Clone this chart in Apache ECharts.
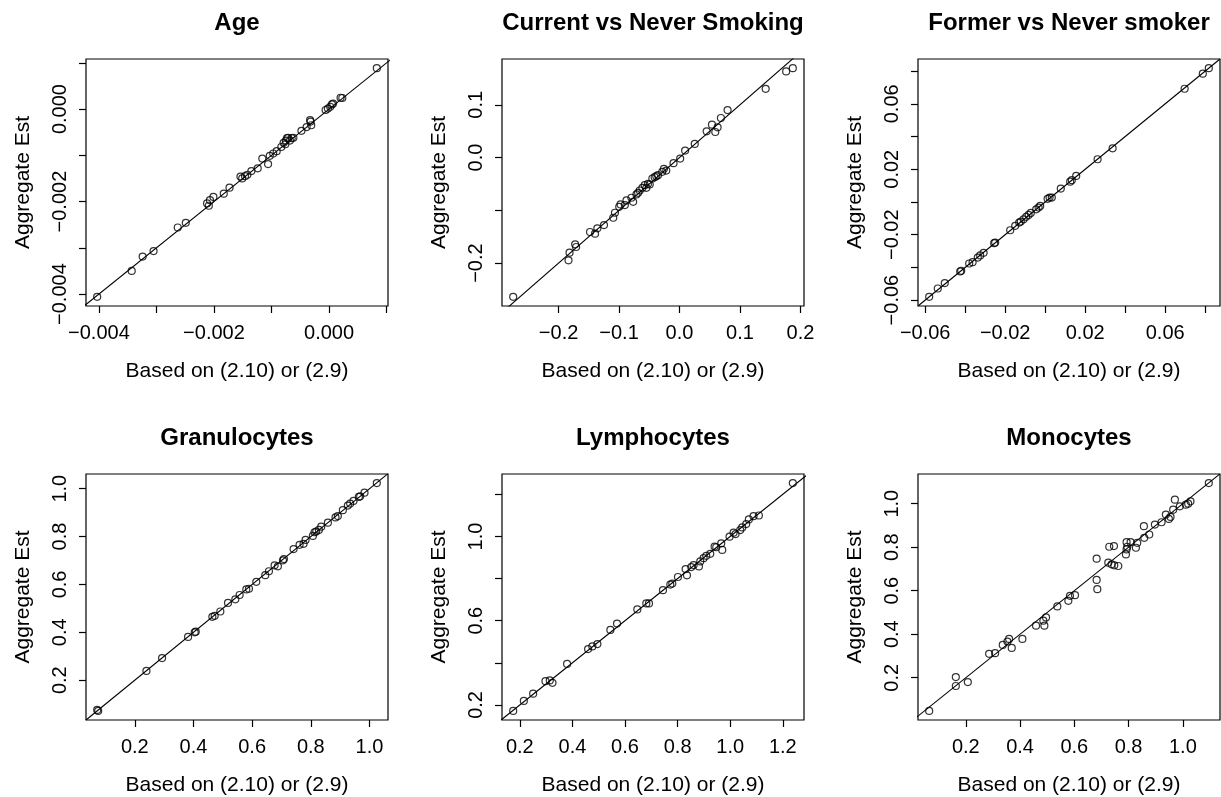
<!DOCTYPE html>
<html>
<head>
<meta charset="utf-8">
<script src="https://cdn.jsdelivr.net/npm/echarts@6/dist/echarts.min.js"></script>
<style>
  html, body { margin: 0; padding: 0; background: #fff; }
  #chart { width: 1221px; height: 797px; }
</style>
</head>
<body>
<div id="chart"></div>
<script>
// ---- Panel titles and axis names ----
const panelTitles = ['Age', 'Current vs Never Smoking', 'Former vs Never smoker',
                     'Granulocytes', 'Lymphocytes', 'Monocytes'];
const xAxisName = 'Based on (2.10) or (2.9)';
const yAxisName = 'Aggregate Est';

// ---- Age ----
const ageBased = [-0.00403, -0.00343, -0.00324, -0.00305, -0.00263, -0.00249, -0.00212, -0.00209,
  -0.00207, -0.00201, -0.00183, -0.00173, -0.00154, -0.00151, -0.00146, -0.00142, -0.00135,
  -0.00124, -0.00116, -0.00106, -0.00103, -0.00097, -0.00091, -0.00083, -0.00079, -0.00075,
  -0.00073, -0.00071, -0.00068, -0.00065, -0.00062, -0.00076, -0.00048, -0.00039, -0.00033,
  -0.00032, -0.00031, -0.00006, -0.00002, 0.00002, 0.00005, 0.00007, 0.00020, 0.00023, 0.00083];
const ageAggregate = [-0.00406, -0.00350, -0.00319, -0.00307, -0.00256, -0.00246, -0.00204, -0.00209,
  -0.00197, -0.00190, -0.00183, -0.00170, -0.00146, -0.00150, -0.00145, -0.00142, -0.00134,
  -0.00128, -0.00107, -0.00119, -0.00101, -0.00096, -0.00091, -0.00082, -0.00073, -0.00068,
  -0.00063, -0.00062, -0.00068, -0.00063, -0.00062, -0.00076, -0.00047, -0.00039, -0.00024,
  -0.00027, -0.00035, -0.00002, 0.00001, 0.00005, 0.00010, 0.00012, 0.000245, 0.00024, 0.000885];
const ageTicks = [-0.004, -0.003, -0.002, -0.001, 0, 0.001];
const ageXLabels = [-0.004, -0.002, 0];
const ageYLabels = [-0.004, -0.002, 0];

// ---- Current vs Never Smoking ----
const curBased = [-0.2751, -0.1836, -0.1819, -0.1726, -0.1710, -0.1480, -0.1397, -0.1359, -0.1249,
  -0.1096, -0.1068, -0.0997, -0.0975, -0.0904, -0.0877, -0.0795, -0.0767, -0.0712, -0.0685,
  -0.0658, -0.0614, -0.0575, -0.0548, -0.0521, -0.0493, -0.0449, -0.0411, -0.0384, -0.0356,
  -0.0285, -0.0258, -0.0219, -0.0099, 0.0011, 0.0093, 0.0252, 0.0449, 0.0537, 0.0592, 0.0630,
  0.0685, 0.0795, 0.1425, 0.1764, 0.1874];
const curAggregate = [-0.2640, -0.1947, -0.1802, -0.1645, -0.1695, -0.1411, -0.1443, -0.1342, -0.1279,
  -0.1141, -0.1046, -0.0933, -0.0888, -0.0901, -0.0813, -0.0762, -0.0838, -0.0699, -0.0668,
  -0.0624, -0.0573, -0.0523, -0.0573, -0.0498, -0.0510, -0.0397, -0.0372, -0.0353, -0.0334,
  -0.0271, -0.0214, -0.0246, -0.0107, -0.0019, 0.0132, 0.0258, 0.0498, 0.0624, 0.0485, 0.0573,
  0.0750, 0.0901, 0.1304, 0.1632, 0.1695];
const curXTicks = [-0.2, -0.1, 0, 0.1, 0.2];
const curXLabels = [-0.2, -0.1, 0, 0.1, 0.2];
const curYTicks = [-0.2, -0.1, 0, 0.1];
const curYLabels = [-0.2, 0, 0.1];

// ---- Former vs Never smoker ----
const forBased = [-0.0580, -0.0537, -0.0502, -0.0425, -0.0420, -0.0380, -0.0363, -0.0337, -0.0325,
  -0.0308, -0.0255, -0.0250, -0.0175, -0.0150, -0.0130, -0.0122, -0.0108, -0.0095, -0.0083,
  -0.0072, -0.0045, -0.0033, -0.0025, 0.0012, 0.0022, 0.0033, 0.0078, 0.0125, 0.0133, 0.0155,
  0.0262, 0.0337, 0.0697, 0.0788, 0.0818];
const forAggregate = [-0.0580, -0.0529, -0.0496, -0.0425, -0.0421, -0.0376, -0.0368, -0.0340, -0.0327,
  -0.0311, -0.0252, -0.0248, -0.0173, -0.0146, -0.0126, -0.0120, -0.0106, -0.0091, -0.0079,
  -0.0067, -0.0045, -0.0034, -0.0024, 0.0019, 0.0027, 0.0027, 0.0082, 0.0124, 0.0133, 0.0159,
  0.0261, 0.0328, 0.0692, 0.0784, 0.0818];
const forTicks = [-0.06, -0.04, -0.02, 0, 0.02, 0.04, 0.06, 0.08];
const forXLabels = [-0.06, -0.02, 0.02, 0.06];
const forYLabels = [-0.06, -0.02, 0.02, 0.06];

// ---- Granulocytes ----
const graBased = [0.0718, 0.0752, 0.2397, 0.2930, 0.3816, 0.4043, 0.4077, 0.4644, 0.4723, 0.4916,
  0.5177, 0.5427, 0.5574, 0.5801, 0.5892, 0.6142, 0.6448, 0.6573, 0.6766, 0.6879, 0.7050,
  0.7084, 0.7413, 0.7617, 0.7753, 0.7821, 0.8071, 0.8128, 0.8184, 0.8275, 0.8355, 0.8582,
  0.8843, 0.8922, 0.9092, 0.9262, 0.9342, 0.9455, 0.9637, 0.9682, 0.9830, 1.0250];
const graAggregate = [0.0759, 0.0717, 0.2386, 0.2924, 0.3807, 0.4000, 0.4028, 0.4648, 0.4690, 0.4869,
  0.5228, 0.5379, 0.5559, 0.5793, 0.5821, 0.6110, 0.6386, 0.6552, 0.6800, 0.6759, 0.7007,
  0.7062, 0.7476, 0.7655, 0.7697, 0.7862, 0.8028, 0.8180, 0.8207, 0.8276, 0.8414, 0.8579,
  0.8800, 0.8855, 0.9103, 0.9297, 0.9379, 0.9490, 0.9655, 0.9683, 0.9834, 1.0234];
const graTicks = [0.2, 0.4, 0.6, 0.8, 1.0];
const graXLabels = [0.2, 0.4, 0.6, 0.8, 1.0];
const graYLabels = [0.2, 0.4, 0.6, 0.8, 1.0];

// ---- Lymphocytes ----
const lymBased = [0.1747, 0.2152, 0.2506, 0.2975, 0.3139, 0.3241, 0.3797, 0.4595, 0.4759, 0.4949,
  0.5443, 0.5696, 0.6468, 0.6810, 0.6911, 0.7443, 0.7722, 0.7798, 0.8013, 0.8304, 0.8355,
  0.8519, 0.8608, 0.8810, 0.8861, 0.8988, 0.9089, 0.9241, 0.9406, 0.9469, 0.9659, 0.9697,
  0.9975, 1.0127, 1.0203, 1.0381, 1.0457, 1.0608, 1.0709, 1.0887, 1.1090, 1.2381];
const lymAggregate = [0.1717, 0.2188, 0.2534, 0.3130, 0.3162, 0.3052, 0.3947, 0.4653, 0.4779, 0.4889,
  0.5564, 0.5862, 0.6537, 0.6820, 0.6820, 0.7448, 0.7715, 0.7762, 0.8076, 0.8453, 0.8154,
  0.8547, 0.8641, 0.8578, 0.8814, 0.8970, 0.9081, 0.9175, 0.9520, 0.9489, 0.9677, 0.9363,
  0.9991, 1.0179, 1.0116, 1.0305, 1.0431, 1.0588, 1.0808, 1.0965, 1.0996, 1.2535];
const lymTicks = [0.2, 0.4, 0.6, 0.8, 1.0, 1.2];
const lymXLabels = [0.2, 0.4, 0.6, 0.8, 1.0, 1.2];
const lymYLabels = [0.2, 0.6, 1.0];

// ---- Monocytes ----
const monBased = [0.0650, 0.1632, 0.1632, 0.2074, 0.2859, 0.3080, 0.3362, 0.3534, 0.3595, 0.3693,
  0.4086, 0.4589, 0.4859, 0.4896, 0.4957, 0.5374, 0.5779, 0.5840, 0.6025, 0.6822, 0.6822,
  0.6847, 0.7252, 0.7288, 0.7460, 0.7374, 0.7472, 0.7620, 0.7902, 0.7926, 0.7951, 0.7926,
  0.8074, 0.8270, 0.8319, 0.8564, 0.8577, 0.8761, 0.8969, 0.9215, 0.9374, 0.9485, 0.9546,
  0.9706, 0.9644, 0.9890, 1.0110, 1.0196, 1.0282, 1.0957];
const monAggregate = [0.0476, 0.2030, 0.1619, 0.1802, 0.3097, 0.3128, 0.3509, 0.3661, 0.3783, 0.3372,
  0.3783, 0.4393, 0.4621, 0.4393, 0.4774, 0.5277, 0.5536, 0.5764, 0.5795, 0.7471, 0.6496,
  0.6069, 0.7288, 0.8020, 0.8050, 0.7212, 0.7166, 0.7136, 0.7670, 0.7898, 0.8020, 0.8233,
  0.8233, 0.7974, 0.8203, 0.8965, 0.8431, 0.8584, 0.9041, 0.9148, 0.9498, 0.9300, 0.9391,
  1.0184, 0.9727, 0.9879, 0.9955, 1.0001, 1.0108, 1.0946];
const monTicks = [0.2, 0.4, 0.6, 0.8, 1.0];
const monXLabels = [0.2, 0.4, 0.6, 0.8, 1.0];
const monYLabels = [0.2, 0.4, 0.6, 0.8, 1.0];

// ---- Assemble panels ----
const panels = [
  { x: ageBased, y: ageAggregate, xt: ageTicks, xl: ageXLabels, yt: ageTicks, yl: ageYLabels, dec: 3 },
  { x: curBased, y: curAggregate, xt: curXTicks, xl: curXLabels, yt: curYTicks, yl: curYLabels, dec: 1 },
  { x: forBased, y: forAggregate, xt: forTicks, xl: forXLabels, yt: forTicks, yl: forYLabels, dec: 2 },
  { x: graBased, y: graAggregate, xt: graTicks, xl: graXLabels, yt: graTicks, yl: graYLabels, dec: 1 },
  { x: lymBased, y: lymAggregate, xt: lymTicks, xl: lymXLabels, yt: lymTicks, yl: lymYLabels, dec: 1 },
  { x: monBased, y: monAggregate, xt: monTicks, xl: monXLabels, yt: monTicks, yl: monYLabels, dec: 1 }
];

const FONT = '"Liberation Sans", Arial, Helvetica, sans-serif';
const colLeft = [86, 502, 918];
const rowTop = [59, 474];
const boxW = 302, boxH = 247;

// data range padded by 4% on each side (base graphics default)
function paddedRange(vals) {
  const lo = Math.min(...vals), hi = Math.max(...vals);
  const pad = 0.04 * (hi - lo);
  return [lo - pad, hi + pad];
}
function fmt(dec) {
  return v => Number(v).toFixed(dec).replace('-', '\u2212');
}

const grids = [], xAxes = [], yAxes = [], series = [], titles = [];
panels.forEach((p, i) => {
  const left = colLeft[i % 3], top = rowTop[Math.floor(i / 3)];
  grids.push({ left: left, top: top, width: boxW, height: boxH, show: true,
    borderColor: '#000', borderWidth: 1.2, backgroundColor: 'transparent', containLabel: false });
  const xr = paddedRange(p.x), yr = paddedRange(p.y);
  const common = {
    type: 'value', gridIndex: i, scale: true,
    splitLine: { show: false },
    axisLine: { show: false, onZero: false },
    nameLocation: 'middle',
    nameTextStyle: { fontSize: 21, color: '#000', fontFamily: FONT }
  };
  xAxes.push(Object.assign({}, common, {
    min: xr[0], max: xr[1], name: xAxisName, nameGap: 55,
    axisTick: { show: true, inside: false, length: 7, customValues: p.xt, lineStyle: { color: '#000', width: 1.2 } },
    axisLabel: { customValues: p.xl, formatter: fmt(p.dec), margin: 17, fontSize: 20, color: '#000', fontFamily: FONT }
  }));
  yAxes.push(Object.assign({}, common, {
    min: yr[0], max: yr[1], name: yAxisName, nameGap: 52, nameRotate: 90,
    axisTick: { show: true, inside: false, length: 7, customValues: p.yt, lineStyle: { color: '#000', width: 1.2 } },
    axisLabel: { customValues: p.yl, formatter: fmt(p.dec), margin: 16, rotate: 90, fontSize: 20, color: '#000', fontFamily: FONT }
  }));
  series.push({
    type: 'scatter', xAxisIndex: i, yAxisIndex: i,
    data: p.x.map((v, k) => [v, p.y[k]]),
    symbol: 'circle', symbolSize: 7,
    itemStyle: { color: 'rgba(0,0,0,0)', borderColor: '#000', borderWidth: 1.2 },
    silent: true
  });
  // identity reference line across the panel
  const lo = Math.min(xr[0], yr[0]), hi = Math.max(xr[1], yr[1]);
  series.push({
    type: 'line', xAxisIndex: i, yAxisIndex: i, clip: true,
    data: [[lo, lo], [hi, hi]], symbol: 'none', silent: true,
    lineStyle: { color: '#000', width: 1.1 }
  });
  titles.push({
    text: panelTitles[i], left: left + boxW / 2, top: top - 48, textAlign: 'center', padding: 0,
    textStyle: { fontSize: 24, fontWeight: 'bold', color: '#000', fontFamily: FONT }
  });
});

const chart = echarts.init(document.getElementById('chart'), null, { renderer: 'canvas' });
chart.setOption({
  animation: false,
  backgroundColor: '#fff',
  title: titles,
  grid: grids,
  xAxis: xAxes,
  yAxis: yAxes,
  series: series
});
</script>
</body>
</html>
